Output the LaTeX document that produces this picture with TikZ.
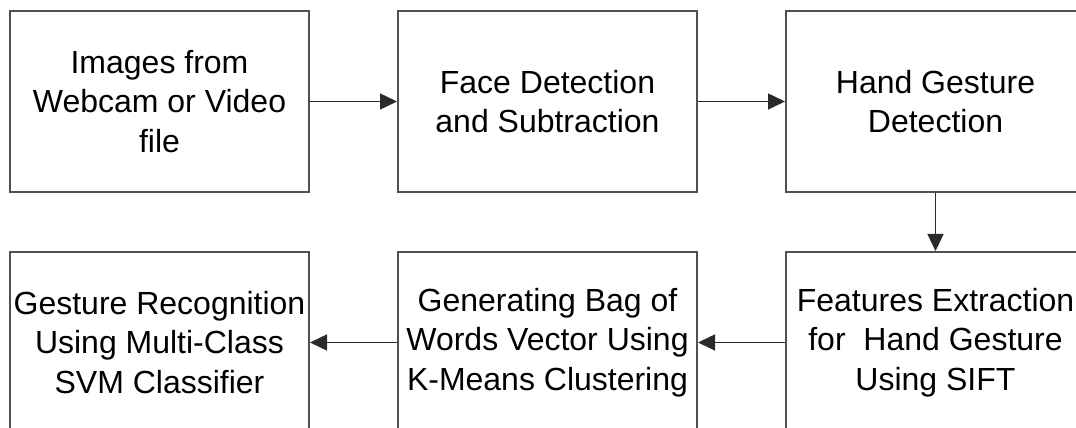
\documentclass[tikz,border=0pt]{standalone}
\usepackage{fontspec}
\setmainfont{Liberation Sans}
\usetikzlibrary{arrows.meta}
\definecolor{boxline}{HTML}{505050}
\definecolor{arrowline}{HTML}{2A2A2A}
\begin{document}
\begin{tikzpicture}[x=1pt,y=1pt,
  procbox/.style={draw=boxline, line width=2pt, minimum width=299pt, minimum height=181pt,
    inner sep=0pt, align=center, text=black, font=\fontsize{32}{39.5}\selectfont},
  flow/.style={draw=arrowline, line width=1.4pt, -{Triangle[length=17pt,width=16pt]}}]
\useasboundingbox (0,0) rectangle (1076,428);
\clip (0,0) rectangle (1076,428);
\fill[white] (0,0) rectangle (1076,428);
\node[procbox] (a) at (159.5,326.5) {Images from\\Webcam or Video\\file};
\node[procbox] (b) at (547.5,326.5) {Face Detection\\and Subtraction};
\node[procbox] (c) at (935.5,326.5) {Hand Gesture\\Detection};
\node[procbox] (d) at (159.5,85.5) {Gesture Recognition\\Using Multi-Class\\SVM Classifier};
\node[procbox] (e) at (547.5,85.5) {Generating Bag of\\Words Vector Using\\K-Means Clustering};
\node[procbox] (f) at (935.5,85.5) {Features Extraction\\for \ Hand Gesture\\Using SIFT};
\draw[flow] (a.east) -- (b.west);
\draw[flow] (b.east) -- (c.west);
\draw[flow] (c.south) -- (f.north);
\draw[flow] (f.west) -- (e.east);
\draw[flow] (e.west) -- (d.east);
\end{tikzpicture}
\end{document}
